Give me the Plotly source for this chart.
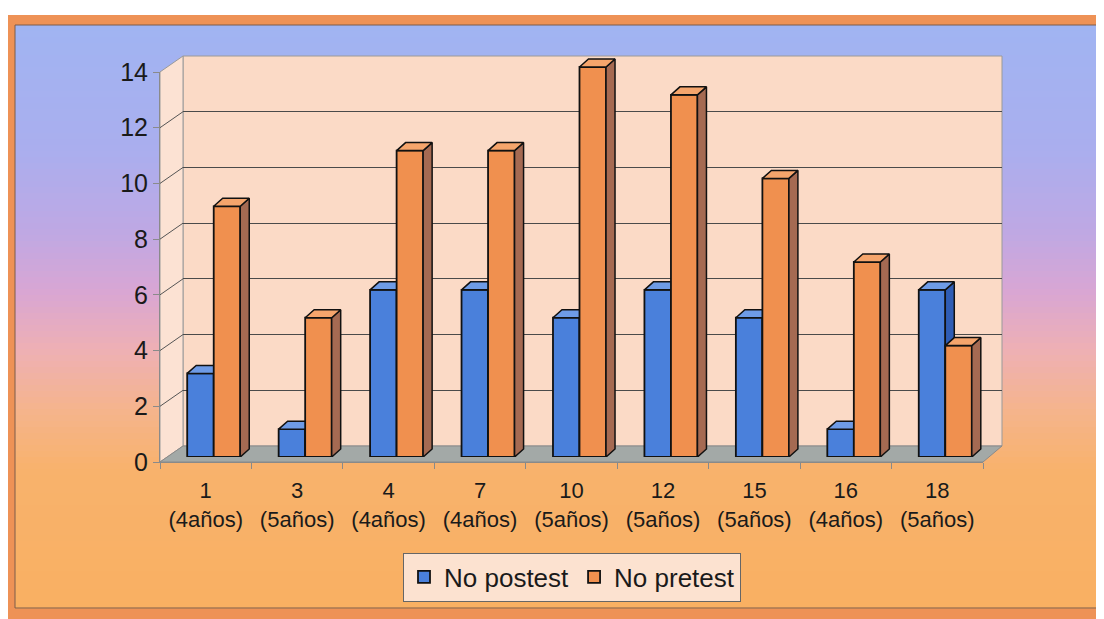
import plotly.graph_objects as go

# ---------------- data ----------------
categories = ["1", "3", "4", "7", "10", "12", "15", "16", "18"]
ages = ["(4años)", "(5años)", "(4años)", "(4años)", "(5años)",
        "(5años)", "(5años)", "(4años)", "(5años)"]
postest = [3, 1, 6, 6, 5, 6, 5, 1, 6]
pretest = [9, 5, 11, 11, 14, 13, 10, 7, 4]
series_names = ["No postest", "No pretest"]
y_ticks = [0, 2, 4, 6, 8, 10, 12, 14]

# ---------------- geometry (pixels in the 1104x619 picture) ----------------
PAGE_W, PAGE_H = 1104, 619
OFF = 8                       # default page margin of the html body
W, H = PAGE_W - OFF, PAGE_H - OFF
FX0, FX1 = 160, 983          # front plane x extent
FY0, FY1 = 462, 72           # front plane y (value 0 / value 14)
DX, DY = 23, 16              # depth of the 3D box
BX, BY = 8, 5                # shift of the bar plane
YMAX = 14
PPU = (FY0 - FY1) / YMAX     # pixels per unit
NC = len(categories)
CATW = (FX1 - FX0) / NC
BAR_W = 0.29
FACE_DX = 9 / CATW
FACE_DY = 8 / PPU


def px(x):
    return min(max((x - OFF) / W, 0), 1)


def py(y):
    return min(max(1 - (y - OFF) / H, 0), 1)


def vy(v):
    return FY0 - v * PPU


# ---------------- background shapes ----------------
shapes = []
shapes.append(dict(type="rect", xref="paper", yref="paper", layer="below",
                   x0=px(4), x1=px(1104), y0=py(619), y1=py(15),
                   fillcolor="#EE9256", line=dict(width=0)))

stops = [(25, (160, 180, 242)), (150, (170, 174, 238)), (230, (190, 168, 228)),
         (290, (216, 166, 212)), (350, (238, 176, 180)), (410, (245, 180, 140)),
         (470, (248, 178, 108)), (608, (249, 176, 98))]


def col_at(y):
    for (y0, c0), (y1, c1) in zip(stops[:-1], stops[1:]):
        if y0 <= y <= y1:
            t = (y - y0) / (y1 - y0)
            return "rgb(%d,%d,%d)" % tuple(round(a + (b - a) * t) for a, b in zip(c0, c1))
    return "rgb(%d,%d,%d)" % stops[-1][1]


y = 25
step = 6
while y < 608:
    y2 = min(y + step, 608)
    shapes.append(dict(type="rect", xref="paper", yref="paper", layer="below",
                       x0=px(15), x1=px(1097), y0=py(y2 + 0.5), y1=py(y),
                       fillcolor=col_at((y + y2) / 2), line=dict(width=0)))
    y = y2
shapes.append(dict(type="rect", xref="paper", yref="paper", layer="below",
                   x0=px(15), x1=px(1097), y0=py(608), y1=py(25),
                   line=dict(color="#7d5c4a", width=1)))

# back wall
shapes.append(dict(type="rect", xref="paper", yref="paper", layer="below",
                   x0=px(FX0 + DX), x1=px(1002), y0=py(FY0 - DY), y1=py(FY1 - DY),
                   fillcolor="#FBDAC6", line=dict(color="#9a9a9a", width=1)))
# side wall
shapes.append(dict(type="path", xref="paper", yref="paper", layer="below",
                   path="M %f,%f L %f,%f L %f,%f L %f,%f Z" % (
                       px(FX0), py(FY0), px(FX0), py(FY1),
                       px(FX0 + DX), py(FY1 - DY), px(FX0 + DX), py(FY0 - DY)),
                   fillcolor="#FCE2D3", line=dict(color="#9a9a9a", width=1)))
# floor
shapes.append(dict(type="path", xref="paper", yref="paper", layer="below",
                   path="M %f,%f L %f,%f L %f,%f L %f,%f Z" % (
                       px(FX0), py(FY0), px(FX1), py(FY0),
                       px(1002), py(FY0 - DY), px(FX0 + DX), py(FY0 - DY)),
                   fillcolor="#A3A9A7", line=dict(color="#8a8a8a", width=1)))
# side-wall grid connectors
for v in y_ticks[1:-1]:
    shapes.append(dict(type="line", xref="paper", yref="paper", layer="below",
                       x0=px(FX0), y0=py(vy(v)), x1=px(FX0 + DX), y1=py(vy(v) - DY),
                       line=dict(color="#555555", width=1)))

# ---------------- traces ----------------
fig = go.Figure()

# invisible anchor traces so the front (labelled) and back (grid) axes are drawn
fig.add_trace(go.Scatter(x=[0], y=[0], mode="markers", marker=dict(opacity=0),
                         xaxis="x", yaxis="y", showlegend=False, hoverinfo="skip"))
fig.add_trace(go.Scatter(x=[0], y=[0], mode="markers", marker=dict(opacity=0),
                         xaxis="x2", yaxis="y2", showlegend=False, hoverinfo="skip"))

front_col = ["#4A80DB", "#F0904F"]
top_col = ["#6E9BE6", "#F5A56C"]
side_col = ["#2F5DB5", "#A56A52"]
offsets = [-BAR_W, 0.0]
axes = [("x3", "y3"), ("x4", "y4")]
idx = list(range(NC))

for s, vals in enumerate([postest, pretest]):
    xa, ya = axes[s]
    fig.add_trace(go.Bar(
        x=idx, y=vals, width=BAR_W, offset=offsets[s], name=series_names[s],
        marker=dict(color=front_col[s], line=dict(color="#111111", width=1.8)),
        xaxis=xa, yaxis=ya, hoverinfo="skip"))
    tx, ty, sx, sy = [], [], [], []
    for i, v in enumerate(vals):
        L = i + offsets[s]
        R = L + BAR_W
        tx += [L, L + FACE_DX, R + FACE_DX, R, L, None]
        ty += [v, v + FACE_DY, v + FACE_DY, v, v, None]
        sx += [R, R + FACE_DX, R + FACE_DX, R, R, None]
        sy += [0, FACE_DY, v + FACE_DY, v, 0, None]
    fig.add_trace(go.Scatter(x=sx, y=sy, mode="lines", fill="toself",
                             fillcolor=side_col[s], line=dict(color="#111111", width=1.5),
                             xaxis=xa, yaxis=ya, showlegend=False, hoverinfo="skip"))
    fig.add_trace(go.Scatter(x=tx, y=ty, mode="lines", fill="toself",
                             fillcolor=top_col[s], line=dict(color="#111111", width=1.5),
                             xaxis=xa, yaxis=ya, showlegend=False, hoverinfo="skip"))

ticktext = ["%s<br>%s" % (c, a) for c, a in zip(categories, ages)]
FONT = "Liberation Sans, Arial, sans-serif"
bar_top_px = (FY0 - BY) - 15 * PPU

fig.update_layout(
    width=W, height=H,
    autosize=False,
    margin=dict(l=0, r=0, t=0, b=0, pad=0, autoexpand=False),
    paper_bgcolor="white",
    plot_bgcolor="rgba(0,0,0,0)",
    hovermode=False,
    showlegend=True,
    shapes=shapes,
    font=dict(family=FONT, color="#1a1a1a"),
    xaxis=dict(domain=[px(FX0), px(FX1)], range=[-0.5, NC - 0.5], anchor="y",
               automargin=False,
               tickvals=idx, ticktext=ticktext, ticks="outside", ticklen=9,
               tickcolor="rgba(0,0,0,0)", showline=True, linecolor="#8a8a8a",
               linewidth=1, showgrid=False, zeroline=False,
               tickfont=dict(size=22, family=FONT, color="#1a1a1a"),
               minor=dict(tickvals=[i - 0.5 for i in range(NC + 1)], ticks="outside",
                          ticklen=6, tickcolor="#8a8a8a", showgrid=False),
               fixedrange=True),
    yaxis=dict(domain=[py(FY0), py(FY1)], range=[0, YMAX], anchor="x",
               automargin=False,
               tickvals=y_ticks, ticks="outside", ticklen=6, tickcolor="#8a8a8a",
               showline=True, linecolor="#8a8a8a", linewidth=1, showgrid=False,
               zeroline=False, tickfont=dict(size=25, family=FONT, color="#1a1a1a"),
               fixedrange=True),
    xaxis2=dict(domain=[px(FX0 + DX), px(1002)], range=[-0.5, NC - 0.5], anchor="y2",
                automargin=False,
                showticklabels=False, showgrid=False, zeroline=False, ticks="",
                showline=False),
    yaxis2=dict(domain=[py(FY0 - DY), py(FY1 - DY)], range=[0, YMAX], anchor="x2",
                automargin=False,
                tickvals=y_ticks[1:-1], showticklabels=False, showgrid=True,
                gridcolor="#4a4a4a", gridwidth=1, zeroline=False, ticks="",
                showline=False),
    xaxis3=dict(domain=[px(FX0 + BX), px(FX1 + BX)], range=[-0.5, NC - 0.5],
                anchor="y3", visible=False),
    yaxis3=dict(domain=[py(FY0 - BY), py(bar_top_px)], range=[0, 15],
                anchor="x3", visible=False),
    xaxis4=dict(overlaying="x3", range=[-0.5, NC - 0.5], anchor="y4", visible=False),
    yaxis4=dict(overlaying="y3", range=[0, 15], anchor="x4", visible=False),
    legend=dict(orientation="h", x=px(572), xanchor="center", y=py(577),
                yanchor="middle", bgcolor="#FCE2D0", bordercolor="#666666",
                borderwidth=1, font=dict(size=26, family=FONT, color="#1a1a1a"),
                traceorder="normal"),
)

fig.write_html("out.html")
